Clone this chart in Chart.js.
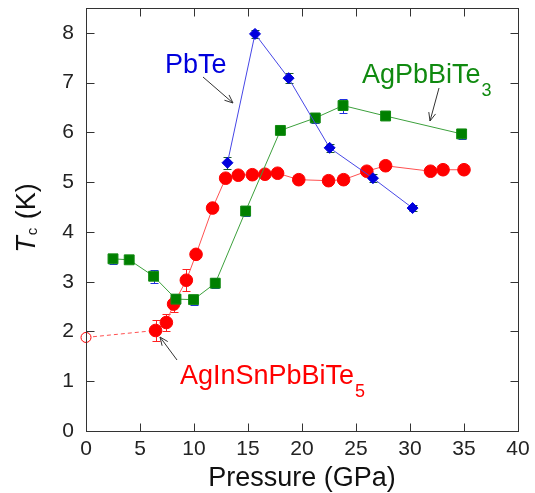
<!DOCTYPE html>
<html>
<head>
<meta charset="utf-8">
<script src="https://cdn.jsdelivr.net/npm/chart.js@4.4.0/dist/chart.umd.min.js"></script>
<style>
  html, body { margin: 0; padding: 0; background: #fff; }
  #wrap { width: 535px; height: 493px; }
</style>
</head>
<body>
<div id="wrap"><canvas id="myChart" width="535" height="493"></canvas></div>
<script>
// pressure (GPa), Tc (K) and error bars
const pbTeP   = [13.1, 15.65, 18.76, 22.56, 26.57, 30.24];
const pbTeTc  = [5.39, 7.98, 7.09, 5.69, 5.08, 4.48];
const pbTeErr = [0.12, 0.08, 0.10, 0.08, 0.08, 0.06];

const agP   = [2.5, 4.0, 6.26, 8.33, 9.96, 11.97, 14.78, 18.0, 21.23, 23.8, 27.74, 34.78];
const agTc  = [3.46, 3.44, 3.11, 2.65, 2.64, 2.97, 4.42, 6.04, 6.29, 6.54, 6.33, 5.97];
const agErr = [0.10, 0.07, 0.13, 0.10, 0.10, 0.10, 0.10, 0.08, 0.10, 0.14, 0.07, 0.10];

const inP   = [0, 6.44, 7.44, 8.11, 9.29, 10.19, 11.72, 12.93, 14.1, 15.4, 16.57, 17.74, 19.7, 22.46, 23.85, 26.0, 27.74, 31.9, 33.06, 35.0];
const inTc  = [1.88, 2.02, 2.18, 2.55, 3.03, 3.55, 4.48, 5.08, 5.14, 5.15, 5.16, 5.18, 5.05, 5.03, 5.05, 5.22, 5.33, 5.22, 5.25, 5.25];
const inErr = [0, 0.21, 0.18, 0.15, 0.22, 0.05, 0.05, 0.05, 0.04, 0.04, 0.04, 0.04, 0.04, 0.04, 0.04, 0.05, 0.05, 0.04, 0.04, 0.04];

const xTicks = [0, 5, 10, 15, 20, 25, 30, 35, 40];
const yTicks = [0, 1, 2, 3, 4, 5, 6, 7, 8];

const FONT = '"Liberation Sans", Arial, sans-serif';

function pts(xs, ys) {
  return xs.map((x, i) => ({ x: x, y: ys[i] }));
}

// error bars behind the markers
const errorBars = {
  id: 'errorBars',
  beforeDatasetsDraw(chart) {
    const ctx = chart.ctx;
    const xs = chart.scales.x, ys = chart.scales.y;
    chart.data.datasets.forEach(ds => {
      if (!ds.err) return;
      ctx.save();
      ctx.strokeStyle = ds.errColor;
      ctx.lineWidth = 1;
      ds.data.forEach((p, i) => {
        const e = ds.err[i];
        if (!e) return;
        const px = Math.round(xs.getPixelForValue(p.x)) + 0.5;
        const top = Math.round(ys.getPixelForValue(p.y + e)) + 0.5;
        const bot = Math.round(ys.getPixelForValue(p.y - e)) + 0.5;
        ctx.beginPath();
        ctx.moveTo(px, top); ctx.lineTo(px, bot);
        ctx.moveTo(px - 4, top); ctx.lineTo(px + 4, top);
        ctx.moveTo(px - 4, bot); ctx.lineTo(px + 4, bot);
        ctx.stroke();
      });
      ctx.restore();
    });
  }
};

function arrow(ctx, x1, y1, x2, y2) {
  const a = Math.atan2(y2 - y1, x2 - x1);
  const h = 9;
  ctx.beginPath();
  ctx.moveTo(x1, y1); ctx.lineTo(x2, y2);
  ctx.moveTo(x2 - h * Math.cos(a - 0.4), y2 - h * Math.sin(a - 0.4));
  ctx.lineTo(x2, y2);
  ctx.lineTo(x2 - h * Math.cos(a + 0.4), y2 - h * Math.sin(a + 0.4));
  ctx.stroke();
}

function subText(ctx, main, sub, x, y, color) {
  ctx.fillStyle = color;
  ctx.textAlign = 'left';
  ctx.textBaseline = 'alphabetic';
  ctx.font = '27px ' + FONT;
  ctx.fillText(main, x, y);
  if (sub) {
    const w = ctx.measureText(main).width;
    ctx.font = '18px ' + FONT;
    ctx.fillText(sub, x + w + 1, y + 13);
  }
}

// frame, inward ticks, axis titles, labels and arrows
const decor = {
  id: 'decor',
  afterDraw(chart) {
    const ctx = chart.ctx;
    const a = chart.chartArea;
    const xs = chart.scales.x, ys = chart.scales.y;
    const L = Math.round(a.left) + 0.5, R = Math.round(a.right) + 0.5;
    const T = Math.round(a.top) + 0.5, B = Math.round(a.bottom) + 0.5;
    ctx.save();
    ctx.strokeStyle = '#333';
    ctx.lineWidth = 1;
    ctx.strokeRect(L, T, R - L, B - T);
    ctx.beginPath();
    xTicks.forEach(v => {
      const px = Math.round(xs.getPixelForValue(v)) + 0.5;
      ctx.moveTo(px, B); ctx.lineTo(px, B - 8);
      ctx.moveTo(px, T); ctx.lineTo(px, T + 8);
    });
    yTicks.forEach(v => {
      const py = Math.round(ys.getPixelForValue(v)) + 0.5;
      ctx.moveTo(L, py); ctx.lineTo(L + 8, py);
      ctx.moveTo(R, py); ctx.lineTo(R - 8, py);
    });
    ctx.stroke();

    // x title
    ctx.fillStyle = '#111';
    ctx.font = '27px ' + FONT;
    ctx.textAlign = 'center';
    ctx.textBaseline = 'alphabetic';
    ctx.fillText('Pressure (GPa)', (a.left + a.right) / 2, 486);

    // y title, rotated
    ctx.save();
    ctx.translate(35, 218);
    ctx.rotate(-Math.PI / 2);
    ctx.textAlign = 'left';
    ctx.font = 'italic 27px ' + FONT;
    const wT = ctx.measureText('T').width;
    ctx.font = '15px ' + FONT;
    const wc = ctx.measureText('c').width;
    ctx.font = '27px ' + FONT;
    const wK = ctx.measureText(' (K)').width;
    let x0 = -(wT + wc + 2 + wK) / 2;
    ctx.font = 'italic 27px ' + FONT;
    ctx.fillText('T', x0, 0);
    ctx.font = '15px ' + FONT;
    ctx.fillText('c', x0 + wT + 1, 2);
    ctx.font = '27px ' + FONT;
    ctx.fillText(' (K)', x0 + wT + wc + 2, 0);
    ctx.restore();

    // series labels
    subText(ctx, 'PbTe', '', 165, 73, '#0000dd');
    subText(ctx, 'AgPbBiTe', '3', 362, 83, '#108a10');
    subText(ctx, 'AgInSnPbBiTe', '5', 180, 384, '#ff0000');

    ctx.strokeStyle = '#333';
    arrow(ctx, 203, 77, 233, 103);
    arrow(ctx, 439, 88, 430, 121);
    arrow(ctx, 177, 360, 160, 337);
    ctx.restore();
  }
};

const config = {
  type: 'scatter',
  data: {
    datasets: [
      {
        label: 'PbTe',
        data: pts(pbTeP, pbTeTc),
        err: pbTeErr,
        errColor: '#1a5a2a',
        showLine: true,
        borderColor: 'rgb(70,70,230)',
        borderWidth: 1,
        pointStyle: 'rectRot',
        pointRadius: 5.5,
        pointBackgroundColor: '#0000dd',
        pointBorderColor: '#0000dd',
        pointBorderWidth: 1,
        order: 1
      },
      {
        label: 'AgPbBiTe3',
        data: pts(agP, agTc),
        err: agErr,
        errColor: '#2030e0',
        showLine: true,
        borderColor: 'rgb(60,160,60)',
        borderWidth: 1,
        pointStyle: 'rect',
        pointRadius: 7,
        pointBackgroundColor: '#008000',
        pointBorderColor: '#108a10',
        pointBorderWidth: 1,
        order: 2
      },
      {
        label: 'AgInSnPbBiTe5',
        data: pts(inP, inTc),
        err: inErr,
        errColor: '#ff2020',
        showLine: true,
        borderColor: 'rgb(255,80,80)',
        borderWidth: 1,
        segment: {
          borderDash: c => c.p0DataIndex === 0 ? [4, 3] : undefined
        },
        pointStyle: 'circle',
        pointRadius: c => c.dataIndex === 0 ? 5 : 6.3,
        pointBackgroundColor: c => c.dataIndex === 0 ? '#fff' : '#ff0000',
        pointBorderColor: '#ff0000',
        pointBorderWidth: 1,
        order: 3
      }
    ]
  },
  options: {
    responsive: false,
    animation: false,
    clip: false,
    layout: { padding: { left: 0, right: 17, top: 8, bottom: 0 } },
    plugins: {
      legend: { display: false },
      tooltip: { enabled: false }
    },
    scales: {
      x: {
        type: 'linear',
        min: 0, max: 40,
        afterFit: s => { s.height = 62; s.paddingLeft = 0; s.paddingRight = 0; },
        afterBuildTicks: s => { s.ticks = xTicks.map(v => ({ value: v })); },
        grid: { display: false, drawTicks: false },
        border: { display: false },
        ticks: { font: { family: FONT, size: 21 }, color: '#222', padding: 6, maxRotation: 0 }
      },
      y: {
        type: 'linear',
        min: 0, max: 8.5,
        afterFit: s => { s.width = 86; s.paddingTop = 0; s.paddingBottom = 0; },
        afterBuildTicks: s => { s.ticks = yTicks.map(v => ({ value: v })); },
        grid: { display: false, drawTicks: false },
        border: { display: false },
        ticks: { font: { family: FONT, size: 21 }, color: '#222', padding: 12 }
      }
    }
  },
  plugins: [errorBars, decor]
};

const myChart = new Chart(document.getElementById('myChart'), config);
</script>
</body>
</html>
